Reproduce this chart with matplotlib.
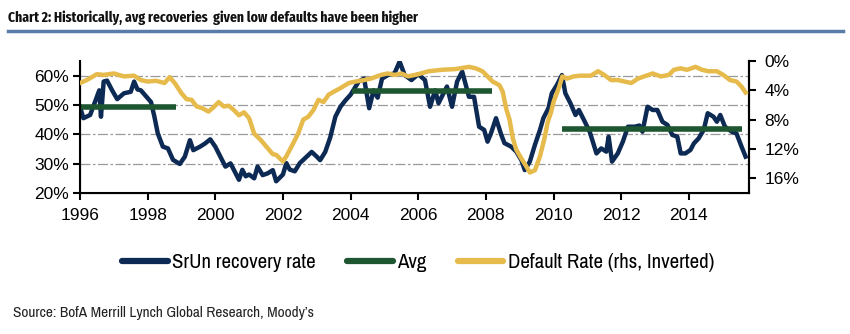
import matplotlib.pyplot as plt
from matplotlib.lines import Line2D

# SrUn recovery rate (%)
rec_x = [1996.0, 1996.1, 1996.3, 1996.5, 1996.57, 1996.62, 1996.7, 1996.8, 1996.95, 1997.1,
         1997.3, 1997.5, 1997.6, 1997.7, 1997.8, 1998.0, 1998.1, 1998.2, 1998.3, 1998.45,
         1998.6, 1998.75, 1998.95, 1999.1, 1999.25, 1999.35, 1999.55, 1999.7, 1999.85, 2000.0,
         2000.15, 2000.3, 2000.45, 2000.6, 2000.7, 2000.8, 2000.9, 2001.0, 2001.15, 2001.25,
         2001.4, 2001.55, 2001.7, 2001.8, 2002.0, 2002.1, 2002.2, 2002.35, 2002.5, 2002.7,
         2002.85, 2003.0, 2003.1, 2003.25, 2003.4, 2003.55, 2003.7, 2003.85, 2004.0, 2004.24,
         2004.4, 2004.55, 2004.68, 2004.8, 2004.93, 2005.1, 2005.3, 2005.45, 2005.6, 2005.8,
         2006.0, 2006.2, 2006.35, 2006.5, 2006.6, 2006.85, 2007.0, 2007.15, 2007.3, 2007.5,
         2007.65, 2007.8, 2007.95, 2008.05, 2008.15, 2008.3, 2008.45, 2008.55, 2008.75, 2008.9,
         2009.05, 2009.15, 2009.3, 2009.45, 2009.6, 2009.7, 2009.85, 2009.95, 2010.1, 2010.25,
         2010.35, 2010.5, 2010.65, 2010.75, 2010.9, 2011.07, 2011.27, 2011.41, 2011.56, 2011.63,
         2011.73, 2011.9, 2012.05, 2012.2, 2012.4, 2012.54, 2012.63, 2012.78, 2012.93, 2013.07,
         2013.22, 2013.37, 2013.51, 2013.66, 2013.76, 2013.9, 2014.05, 2014.15, 2014.29, 2014.44,
         2014.56, 2014.73, 2014.83, 2014.93, 2015.07, 2015.27, 2015.41, 2015.56, 2015.68]
rec_y = [49.4, 45.5, 46.6, 52.8, 55.0, 46.0, 58.0, 58.3, 55.0, 52.0,
         54.0, 54.5, 58.0, 55.3, 55.0, 52.3, 51.0, 46.0, 40.3, 35.8,
         35.2, 31.3, 29.9, 32.4, 38.0, 34.6, 35.8, 36.9, 38.3, 35.8,
         32.4, 29.0, 30.1, 26.7, 24.5, 27.9, 25.7, 26.3, 25.0, 29.0,
         26.1, 26.7, 27.8, 24.0, 26.3, 30.2, 28.0, 27.4, 30.2, 32.4,
         34.0, 32.4, 31.2, 34.0, 39.0, 46.0, 49.4, 51.6, 53.5, 58.0,
         59.0, 48.9, 55.0, 52.5, 59.0, 60.2, 60.8, 64.8, 60.2, 58.5,
         60.5, 58.5, 49.4, 55.0, 50.6, 56.3, 49.4, 58.0, 61.4, 52.8,
         52.8, 42.6, 41.5, 37.5, 40.3, 45.5, 40.0, 37.0, 35.8, 34.1,
         31.2, 27.8, 30.7, 36.4, 41.5, 45.5, 48.9, 54.0, 56.8, 60.2,
         54.0, 50.6, 46.6, 48.3, 44.9, 40.9, 33.5, 35.2, 34.1, 39.2,
         30.7, 33.5, 37.5, 42.6, 42.6, 43.0, 40.9, 49.4, 48.3, 48.3,
         44.3, 43.2, 39.8, 39.2, 33.5, 33.5, 34.7, 36.9, 38.6, 41.5,
         47.2, 46.0, 44.3, 46.6, 42.6, 40.9, 40.3, 35.8, 32.4]

# period averages
avg_start = [1996.0, 2004.05, 2010.26]
avg_end = [1998.84, 2008.19, 2015.56]
avg_val = [49.2, 54.9, 41.8]

# default rate (%), right axis inverted
def_x = [1996.0, 1996.2, 1996.5, 1996.7, 1997.0, 1997.3, 1997.6, 1997.8, 1998.0, 1998.25,
         1998.5, 1998.65, 1998.8, 1999.0, 1999.15, 1999.3, 1999.45, 1999.6, 1999.8, 1999.95,
         2000.1, 2000.25, 2000.4, 2000.55, 2000.7, 2000.85, 2001.0, 2001.15, 2001.35, 2001.55,
         2001.7, 2001.8, 2002.0, 2002.1, 2002.25, 2002.45, 2002.6, 2002.75, 2002.9, 2003.05,
         2003.2, 2003.35, 2003.5, 2003.7, 2003.95, 2004.15, 2004.4, 2004.6, 2004.9, 2005.1,
         2005.3, 2005.5, 2005.7, 2006.0, 2006.3, 2006.7, 2007.1, 2007.5, 2007.7, 2007.9,
         2008.05, 2008.2, 2008.4, 2008.5, 2008.6, 2008.7, 2008.8, 2008.9, 2009.05, 2009.2,
         2009.3, 2009.45, 2009.6, 2009.73, 2009.83, 2009.92, 2010.0, 2010.17, 2010.26, 2010.4,
         2010.6, 2010.8, 2011.1, 2011.32, 2011.5, 2011.7, 2011.9, 2012.1, 2012.3, 2012.5,
         2012.68, 2012.93, 2013.17, 2013.41, 2013.56, 2013.76, 2013.95, 2014.2, 2014.39, 2014.58,
         2014.83, 2015.02, 2015.22, 2015.41, 2015.56, 2015.68]
def_y = [3.0, 2.6, 1.8, 1.9, 1.7, 2.1, 2.0, 2.6, 2.8, 2.7,
         3.0, 2.2, 3.0, 4.4, 5.2, 5.3, 6.2, 6.4, 6.9, 6.3,
         5.6, 6.2, 6.1, 6.7, 7.4, 7.0, 7.8, 9.9, 10.8, 11.9,
         12.7, 12.8, 13.7, 13.0, 11.7, 9.9, 8.0, 7.6, 6.7, 5.3,
         5.6, 4.6, 4.2, 3.7, 3.0, 2.8, 2.6, 2.4, 1.9, 1.7,
         1.9, 1.7, 2.1, 1.8, 1.4, 1.2, 1.1, 0.8, 1.0, 1.4,
         2.1, 2.8, 3.3, 4.2, 6.5, 8.0, 10.6, 12.1, 13.3, 14.4,
         15.2, 14.9, 13.0, 10.6, 8.3, 7.1, 5.6, 3.5, 2.1, 2.4,
         2.1, 2.0, 2.0, 1.4, 1.9, 2.6, 2.6, 2.8, 3.0, 2.4,
         2.1, 1.7, 2.1, 1.9, 1.2, 1.0, 1.2, 0.8, 1.2, 1.4,
         1.4, 1.9, 2.6, 2.8, 3.5, 4.3]

years = list(range(1996, 2015, 2))
left_ticks = [20, 30, 40, 50, 60]
right_ticks = [0, 4, 8, 12, 16]

navy = '#0d2a54'
green = '#1d5630'
gold = '#e6bb4c'
narrow = ['Archivo Narrow', 'DejaVu Sans']
cond = ['Fira Sans Extra Condensed', 'Barlow Condensed', 'Archivo Narrow', 'DejaVu Sans']
plt.rcParams['font.family'] = ['Liberation Sans', 'DejaVu Sans']

fig = plt.figure(figsize=(8.5, 3.34), dpi=100)
ax = fig.add_axes([80/850, 1 - 193/334, 669/850, 132/334])

ax.plot(rec_x, rec_y, color=navy, lw=3.2, solid_joinstyle='round', zorder=3)
ax.hlines(avg_val, avg_start, avg_end, color=green, lw=4, zorder=4)

ax.set_xlim(1996, 2015.78)
ax.set_ylim(20, 65)
ax.set_xticks(years)
ax.set_yticks(left_ticks)
ax.set_yticklabels([f'{v}%' for v in left_ticks])
for v in left_ticks[1:]:
    ax.axhline(v, color='#9a9a9a', lw=0.9, ls=(0, (8, 2, 2, 2)), zorder=1)

for s in ['left', 'bottom', 'right']:
    ax.spines[s].set_linewidth(1.5)
ax.spines['top'].set_visible(False)
ax.tick_params(axis='both', direction='out', length=5, width=1.5, labelsize=12.5, pad=3)
ax.tick_params(axis='x', pad=6)

ax2 = ax.twinx()
ax2.plot(def_x, def_y, color=gold, lw=3.2, solid_joinstyle='round', zorder=3)
ax2.set_ylim(18, 0)
ax2.set_yticks(right_ticks)
ax2.set_yticklabels([f'{v}%' for v in right_ticks])
ax2.spines['top'].set_visible(False)
ax2.spines['right'].set_linewidth(1.5)
ax2.tick_params(axis='y', direction='out', length=5, width=1.5, labelsize=12.5, pad=6)

handles = [Line2D([], [], color=navy, lw=4.5, solid_capstyle='round'),
           Line2D([], [], color=green, lw=4.5, solid_capstyle='round'),
           Line2D([], [], color=gold, lw=4.5, solid_capstyle='round')]
fig.legend(handles, ['SrUn recovery rate', 'Avg', 'Default Rate (rhs, Inverted)'],
           loc='center', bbox_to_anchor=(418/850, 1 - 263/334), ncol=3, frameon=False,
           prop={'family': narrow, 'size': 15}, handlelength=2.2, handletextpad=0.2,
           columnspacing=1.5)

title = fig.text(8/850, 1 - 18/334,
                 'Chart 2: Historically, avg recoveries  given low defaults have been higher',
                 family=cond, weight='bold', size=14, color='#111111', va='center', ha='left')
source = fig.text(13/850, 1 - 313/334, 'Source: BofA Merrill Lynch Global Research, Moody\u2019s',
                  family=narrow, size=10.5, color='#222222', va='center', ha='left')
fig.add_artist(Line2D([8/850, 843/850], [1 - 31/334, 1 - 31/334], color='#5a7ca8', lw=2.5))

# fit the condensed texts to the widths seen in the original
renderer = fig.canvas.get_renderer()
for txt, width in [(title, 410), (source, 302)]:
    w = txt.get_window_extent(renderer).width
    txt.set_size(min(txt.get_size() * width / w, 14))

fig.savefig('out.png', dpi=100)
